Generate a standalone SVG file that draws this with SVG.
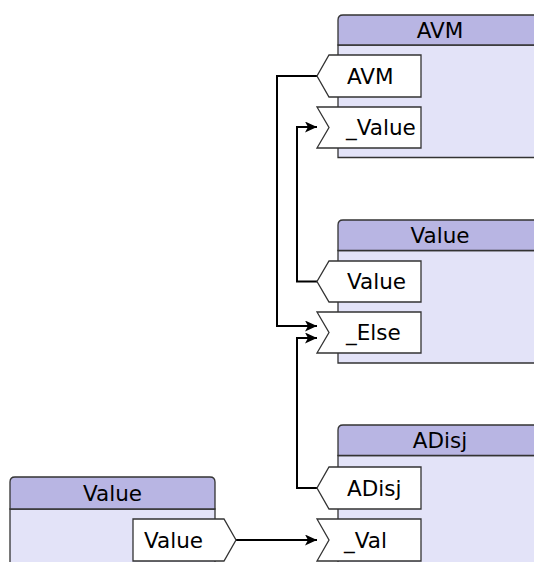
<svg xmlns="http://www.w3.org/2000/svg" width="534" height="562" viewBox="0 0 534 562">
<defs>
<style>
.body{fill:#e3e3f8;stroke:#333;stroke-width:1.3}
.head{fill:#b8b5e3;stroke:#333;stroke-width:1.3}
.port{fill:#fff;stroke:#333;stroke-width:1.3}
text{font-family:"DejaVu Sans",sans-serif;font-size:21.5px;fill:#000}
.c{text-anchor:middle}
.wire{fill:none;stroke:#000;stroke-width:2;marker-end:url(#arr)}
</style>
<marker id="arr" markerUnits="userSpaceOnUse" markerWidth="13" markerHeight="11" refX="12" refY="5.5" orient="auto">
<path d="M0,0 L12,5.5 L0,11 L3,5.5 z" fill="#000"/>
</marker>
</defs>
<g id="connectors">
<path class="wire" d="M317,76 H277 V326 H317"/>
<path class="wire" d="M317,281.5 H297 V127 H317"/>
<path class="wire" d="M317,488 H297 V338 H317"/>
<path class="wire" d="M236,540 H317"/>
</g>
<g id="node-avm">
<path class="body" d="M338,45 H543 V157.5 H338 Z"/>
<path class="head" d="M338,45 V20 Q338,15 343,15 H538 Q543,15 543,20 V45 Z"/>
<text class="c" x="440" y="37.5">AVM</text>
<polygon class="port" points="329,55 421,55 421,97 329,97 317,76"/>
<text x="347" y="83.5">AVM</text>
<polygon class="port" points="317,107 421,107 421,148 317,148 329,127.5"/>
<text x="346" y="135">_Value</text>
</g>
<g id="node-value">
<path class="body" d="M338,250.5 H543 V363 H338 Z"/>
<path class="head" d="M338,250.5 V225 Q338,220 343,220 H538 Q543,220 543,225 V250.5 Z"/>
<text class="c" x="440" y="243">Value</text>
<polygon class="port" points="329,261 421,261 421,302 329,302 317,281.5"/>
<text x="347" y="289">Value</text>
<polygon class="port" points="317,312 421,312 421,353 317,353 329,332.5"/>
<text x="346" y="340">_Else</text>
</g>
<g id="node-adisj">
<path class="body" d="M338,455.5 H543 V600 H338 Z"/>
<path class="head" d="M338,455.5 V430 Q338,425 343,425 H538 Q543,425 543,430 V455.5 Z"/>
<text class="c" x="440" y="448">ADisj</text>
<polygon class="port" points="329,467 421,467 421,509 329,509 317,488"/>
<text x="347" y="495.5">ADisj</text>
<polygon class="port" points="317,519 421,519 421,561 317,561 329,540"/>
<text x="344" y="547.5">_Val</text>
</g>
<g id="node-value-left">
<path class="body" d="M10,509 H215 V600 H10 Z"/>
<path class="head" d="M10,509 V482 Q10,477 15,477 H210 Q215,477 215,482 V509 Z"/>
<text class="c" x="112.5" y="500.5">Value</text>
<polygon class="port" points="133,519 224,519 236,540 224,561 133,561"/>
<text x="144" y="547.5">Value</text>
</g>
</svg>
